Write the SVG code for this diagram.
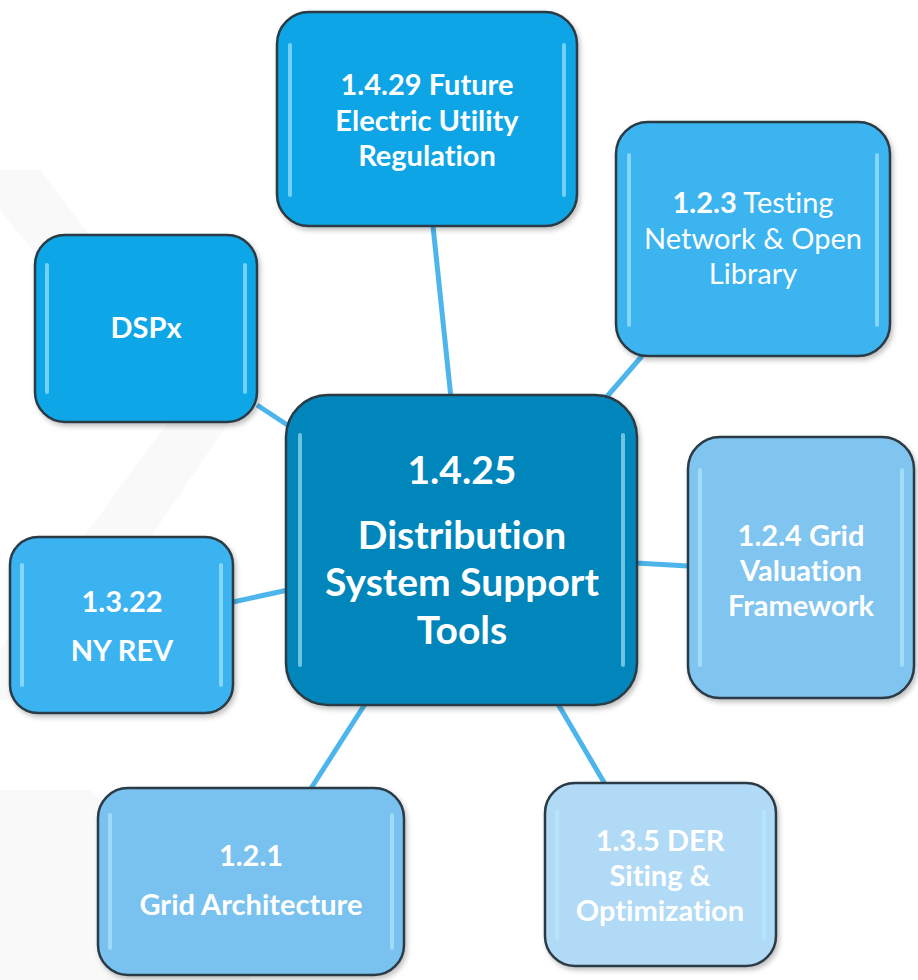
<svg xmlns="http://www.w3.org/2000/svg" width="918" height="980" viewBox="0 0 918 980">
<defs>
<style>
.box{stroke:#2a3a44;stroke-width:2.5}
.hl{fill:none;stroke:#b8ecff;stroke-opacity:0.6;stroke-width:4;stroke-linecap:round}
.c{stroke:#4db5ec;stroke-width:5;fill:none}
.t{fill:#ffffff;font-family:Lato,"Open Sans",sans-serif;font-weight:bold;text-anchor:middle;font-size:29px;font-variant-ligatures:none;font-feature-settings:"liga" 0,"clig" 0}
.n{font-weight:normal}
.b{font-weight:bold}
.big{font-size:39px}
.wm{fill:#f9f9f9}
</style>
<filter id="sh" x="-10%" y="-10%" width="125%" height="125%">
<feDropShadow dx="2" dy="3" stdDeviation="2.5" flood-color="#000" flood-opacity="0.25"/>
</filter>
</defs>
<rect width="918" height="980" fill="#ffffff"/>
<g id="watermark">
<polygon class="wm" points="0,170 40,170 230,420 40,700 0,700 0,650 170,420 0,210"/>
<polygon class="wm" points="0,790 90,790 250,940 250,980 0,980"/>
</g>
<g id="connectors">
<line class="c" x1="433" y1="226" x2="451" y2="398"/>
<line class="c" x1="642" y1="356" x2="604" y2="400"/>
<line class="c" x1="257" y1="405" x2="292" y2="428"/>
<line class="c" x1="636" y1="563" x2="688" y2="566"/>
<line class="c" x1="233" y1="602" x2="288" y2="590"/>
<line class="c" x1="365" y1="704" x2="310" y2="790"/>
<line class="c" x1="558" y1="704" x2="605" y2="784"/>
</g>
<g id="n1429">
<rect class="box" x="277" y="12" width="300" height="214" rx="32" fill="#0ea5e6" filter="url(#sh)"/>
<line class="hl" x1="290" y1="45" x2="290" y2="195"/><line class="hl" x1="564" y1="45" x2="564" y2="195"/>
<text class="t" x="427" y="95">1.4.29 Future</text>
<text class="t" x="427" y="131">Electric Utility</text>
<text class="t" x="427" y="166">Regulation</text>
</g>
<g id="n123">
<rect class="box" x="616" y="122" width="274" height="234" rx="32" fill="#3bb4f0" filter="url(#sh)"/>
<line class="hl" x1="629" y1="155" x2="629" y2="325"/><line class="hl" x1="877" y1="155" x2="877" y2="325"/>
<text class="t n" x="753" y="213"><tspan class="b">1.2.3</tspan> Testing</text>
<text class="t n" x="753" y="249">Network &amp; Open</text>
<text class="t n" x="753" y="284">Library</text>
</g>
<g id="ndspx">
<rect class="box" x="35" y="235" width="222" height="187" rx="30" fill="#0fa7e8" filter="url(#sh)"/>
<line class="hl" x1="47" y1="265" x2="47" y2="392"/><line class="hl" x1="245" y1="265" x2="245" y2="392"/>
<text class="t" x="146" y="338">DSPx</text>
</g>
<g id="n1425">
<rect class="box" x="286" y="395" width="351" height="310" rx="42" fill="#0686ba" filter="url(#sh)"/>
<line class="hl" x1="300" y1="435" x2="300" y2="665" stroke-opacity="0.45"/><line class="hl" x1="623" y1="435" x2="623" y2="665" stroke-opacity="0.45"/>
<text class="t big" x="462" y="484">1.4.25</text>
<text class="t big" x="462" y="549">Distribution</text>
<text class="t big" x="462" y="596">System Support</text>
<text class="t big" x="462" y="644">Tools</text>
</g>
<g id="n124">
<rect class="box" x="688" y="437" width="226" height="261" rx="32" fill="#80c5ef" filter="url(#sh)"/>
<line class="hl" x1="700" y1="470" x2="700" y2="665"/><line class="hl" x1="902" y1="470" x2="902" y2="665"/>
<text class="t" x="801" y="546">1.2.4 Grid</text>
<text class="t" x="801" y="581">Valuation</text>
<text class="t" x="801" y="616">Framework</text>
</g>
<g id="n1322">
<rect class="box" x="10" y="537" width="223" height="176" rx="28" fill="#3bb3f0" filter="url(#sh)"/>
<line class="hl" x1="22" y1="565" x2="22" y2="685"/><line class="hl" x1="221" y1="565" x2="221" y2="685"/>
<text class="t" x="122" y="612">1.3.22</text>
<text class="t" x="122" y="661">NY REV</text>
</g>
<g id="n121">
<rect class="box" x="98" y="788" width="306" height="187" rx="30" fill="#79c1ee" filter="url(#sh)"/>
<line class="hl" x1="110" y1="815" x2="110" y2="948"/><line class="hl" x1="392" y1="815" x2="392" y2="948"/>
<text class="t" x="251" y="866">1.2.1</text>
<text class="t" x="251" y="915">Grid Architecture</text>
</g>
<g id="n135">
<rect class="box" x="545" y="783" width="231" height="183" rx="30" fill="#b0daf5" filter="url(#sh)"/>
<line class="hl" x1="557" y1="812" x2="557" y2="938"/><line class="hl" x1="764" y1="812" x2="764" y2="938"/>
<text class="t" x="660" y="851">1.3.5 DER</text>
<text class="t" x="660" y="886">Siting &amp;</text>
<text class="t" x="660" y="921">Optimization</text>
</g>
</svg>
